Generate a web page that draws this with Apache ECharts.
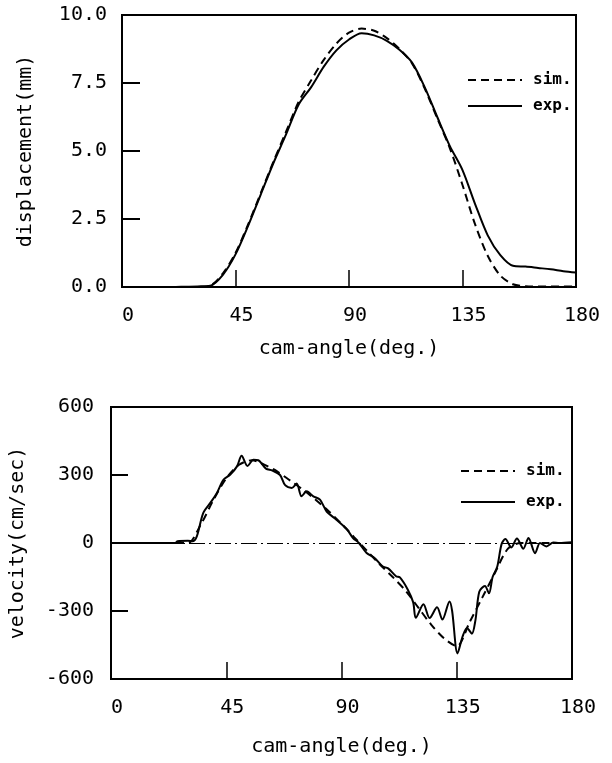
<!DOCTYPE html>
<html>
<head>
<meta charset="utf-8">
<script src="https://cdn.jsdelivr.net/npm/echarts@6/dist/echarts.min.js"></script>
<style>
  html, body { margin: 0; padding: 0; background: #fff; }
  #chart { width: 612px; height: 763px; }
</style>
</head>
<body>
<div id="chart"></div>
<script>
// cam-angle (deg.) for displacement curves
const dispAngle = [0, 5, 10, 15, 20, 25, 30, 35, 40, 45, 50, 55, 60, 65, 70, 75, 80, 85, 90,
  95, 100, 105, 110, 115, 120, 125, 130, 135, 140, 145, 150, 155, 160, 165, 170, 175, 180]
// displacement (mm)
const dispSim = [0, 0, 0, 0, 0, 0, 0, 0.05, 0.5, 1.25, 2.3, 3.45, 4.6, 5.7, 6.8, 7.6, 8.35, 8.95, 9.35,
  9.5, 9.42, 9.15, 8.75, 8.22, 7.3, 6.2, 5.1, 3.75, 2.3, 1.15, 0.42, 0.1, 0.03, 0.02, 0.02, 0.02, 0.02]
const dispExp = [0, 0, 0, 0, 0, 0.01, 0.02, 0.05, 0.45, 1.2, 2.25, 3.4, 4.55, 5.6, 6.7, 7.35, 8.1, 8.7, 9.1,
  9.33, 9.25, 9.05, 8.72, 8.25, 7.35, 6.25, 5.18, 4.3, 3.05, 1.9, 1.17, 0.78, 0.75, 0.7, 0.65, 0.58, 0.53]

// velocity (cm/sec)
const velSimAngle = [0, 25, 30, 35, 40, 45, 50, 55, 60, 65, 70, 75, 80, 85, 90, 95, 100, 105, 110,
  115, 120, 125, 130, 135, 140, 145, 150, 155, 160, 165, 170, 175, 180]
const velSim = [0, 0, 0, 80, 190, 285, 345, 365, 345, 315, 275, 235, 190, 140, 85, 25, -35, -95, -150,
  -210, -285, -360, -420, -455, -350, -240, -130, -25, 0, 0, 0, 0, 0]

const velExpAngle = [0, 20, 25, 26, 30, 32, 33.5, 36, 38.7, 41.3, 43.9, 46.5, 49.2, 51, 53.3, 55.6, 57.5,
  60.5, 63, 66, 68, 70.6, 72.5, 74.4, 76.4, 79, 81.6, 84.2, 88, 92, 94.5, 96.8, 99.8, 102.9, 106,
  108.2, 111.3, 112.8, 115.9, 118, 119, 122, 124.4, 127.3, 129.4, 132.2, 133.2, 135.3, 137.3, 139,
  140.9, 142.3, 143.8, 146, 147.6, 149, 150.8, 152.5, 154, 156.3, 158.5, 161, 163, 165.6, 167.5,
  170, 172.7, 175, 180]
const velExp = [0, 0, 0, 8, 10, 8, 29, 132, 176, 220, 279, 301, 338, 385, 340, 367, 365,
  328, 320, 300, 255, 243, 262, 206, 228, 206, 191, 139, 103, 62, 22, 0, -44, -66, -103,
  -112, -147, -152, -206, -262, -330, -270, -331, -284, -338, -258, -300, -487, -412, -375,
  -400, -340, -215, -190, -222, -150, -105, -5, 18, -20, 20, -25, 22, -45, 0,
  -15, 2, 0, 3]

const angleTicks = [0, 45, 90, 135, 180]

const FONT = 'DejaVu Sans Mono'
const pairs = (xs, ys) => xs.map((x, i) => [x, ys[i]])

function xAxisFor(gridIndex) {
  return {
    gridIndex,
    type: 'value',
    min: angleTicks[0], max: angleTicks[angleTicks.length - 1], interval: 45,
    name: 'cam-angle(deg.)',
    nameLocation: 'middle',
    nameGap: gridIndex === 0 ? 52 : 58,
    nameTextStyle: { color: '#000', fontFamily: FONT, fontSize: 20 },
    axisLine: { onZero: false, lineStyle: { color: '#000', width: 2 } },
    axisTick: { inside: true, length: 17, lineStyle: { color: '#000', width: 1.5 } },
    axisLabel: { color: '#000', fontFamily: FONT, fontSize: 20, margin: 19, formatter: v => ' ' + v },
    splitLine: { show: false },
  }
}

function legendAt(left, top, gap) {
  return {
    orient: 'vertical', left, top, itemWidth: 54, itemHeight: 14, itemGap: gap,
    itemStyle: { opacity: 0 },
    textStyle: { color: '#000', fontFamily: FONT, fontSize: 16, fontWeight: 'bold', padding: [0, 0, 0, 6] },
    data: ['sim.', 'exp.'],
  }
}

const chart = echarts.init(document.getElementById('chart'))
chart.setOption({
  animation: false,
  backgroundColor: '#fff',
  color: ['#000', '#000'],
  grid: [
    { left: 122, right: 36, top: 15, height: 272, show: true, borderColor: '#000', borderWidth: 2 },
    { left: 111, right: 40, top: 407, height: 272, show: true, borderColor: '#000', borderWidth: 2 },
  ],
  legend: [legendAt(462, 67, 10), legendAt(455, 458, 15)],
  xAxis: [xAxisFor(0), xAxisFor(1)],
  yAxis: [
    {
      gridIndex: 0, type: 'value', min: 0, max: 10, interval: 2.5,
      name: 'displacement(mm)', nameLocation: 'middle', nameGap: 86,
      nameTextStyle: { color: '#000', fontFamily: FONT, fontSize: 20 },
      axisLine: { lineStyle: { color: '#000', width: 2 } },
      axisTick: { inside: true, length: 18, lineStyle: { color: '#000', width: 2 } },
      axisLabel: { color: '#000', fontFamily: FONT, fontSize: 20, margin: 15, formatter: v => v.toFixed(1) },
      splitLine: { show: false },
    },
    {
      gridIndex: 1, type: 'value', min: -600, max: 600, interval: 300,
      name: 'velocity(cm/sec)', nameLocation: 'middle', nameGap: 83,
      nameTextStyle: { color: '#000', fontFamily: FONT, fontSize: 20 },
      axisLine: { onZero: false, lineStyle: { color: '#000', width: 2 } },
      axisTick: { inside: true, length: 17, lineStyle: { color: '#000', width: 2 } },
      axisLabel: { color: '#000', fontFamily: FONT, fontSize: 20, margin: 17 },
      splitLine: { show: false },
    },
  ],
  series: [
    {
      name: 'sim.', type: 'line', xAxisIndex: 0, yAxisIndex: 0, symbol: 'none', smooth: 0.3,
      itemStyle: { color: '#000' },
      lineStyle: { color: '#000', width: 2, type: [8, 5] },
      data: pairs(dispAngle, dispSim),
    },
    {
      name: 'exp.', type: 'line', xAxisIndex: 0, yAxisIndex: 0, symbol: 'none', smooth: 0.3,
      itemStyle: { color: '#000' },
      lineStyle: { color: '#000', width: 2 },
      data: pairs(dispAngle, dispExp),
    },
    {
      name: 'sim.', type: 'line', xAxisIndex: 1, yAxisIndex: 1, symbol: 'none', smooth: 0.3,
      itemStyle: { color: '#000' },
      lineStyle: { color: '#000', width: 2, type: [8, 5] },
      data: pairs(velSimAngle, velSim),
      markLine: {
        silent: true, symbol: 'none', label: { show: false },
        lineStyle: { color: '#000', width: 1, type: [16, 4, 2, 4] },
        data: [{ yAxis: 0 }],
      },
    },
    {
      name: 'exp.', type: 'line', xAxisIndex: 1, yAxisIndex: 1, symbol: 'none', smooth: 0.3,
      itemStyle: { color: '#000' },
      lineStyle: { color: '#000', width: 2 },
      data: pairs(velExpAngle, velExp),
    },
  ],
})
window.addEventListener('resize', () => chart.resize())
</script>
</body>
</html>
